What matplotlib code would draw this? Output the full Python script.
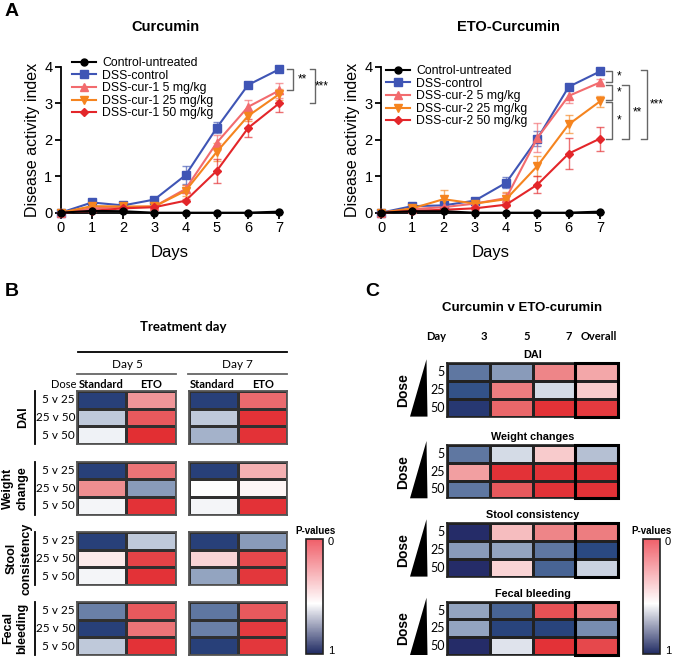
import numpy as np
import matplotlib
matplotlib.use('Agg')
import matplotlib.pyplot as plt
from matplotlib.colors import LinearSegmentedColormap, to_rgba
from matplotlib.patches import Rectangle, Polygon
from matplotlib.cm import ScalarMappable
from matplotlib.colors import Normalize

W, H = 675, 658
plt.rcParams['font.family'] = ['Liberation Sans', 'DejaVu Sans']
CAL = ['Lato', 'DejaVu Sans']

# ---------------- Panel A data ----------------
days = [0, 1, 2, 3, 4, 5, 6, 7]
cur_labels = ['Control-untreated', 'DSS-control', 'DSS-cur-1 5 mg/kg', 'DSS-cur-1 25 mg/kg', 'DSS-cur-1 50 mg/kg']
eto_labels = ['Control-untreated', 'DSS-control', 'DSS-cur-2 5 mg/kg', 'DSS-cur-2 25 mg/kg', 'DSS-cur-2 50 mg/kg']

cur_ctrl = [0, 0.05, 0.04, 0.0, 0.0, 0.0, 0.0, 0.03]
cur_dss = [0, 0.28, 0.20, 0.36, 1.03, 2.33, 3.50, 3.93]
cur_5 = [0, 0.12, 0.15, 0.17, 0.65, 1.92, 2.90, 3.35]
cur_25 = [0, 0.18, 0.17, 0.17, 0.60, 1.67, 2.65, 3.25]
cur_50 = [0, 0.05, 0.12, 0.15, 0.33, 1.15, 2.32, 3.00]
cur_ctrl_err = [0, 0, 0, 0, 0, 0, 0, 0]
cur_dss_err = [0, 0.05, 0.04, 0.08, 0.25, 0.15, 0.08, 0.03]
cur_5_err = [0, 0.04, 0.04, 0.04, 0.10, 0.20, 0.18, 0.20]
cur_25_err = [0, 0.04, 0.04, 0.04, 0.15, 0.25, 0.15, 0.15]
cur_50_err = [0, 0.03, 0.03, 0.04, 0.05, 0.33, 0.25, 0.25]

eto_ctrl = [0, 0.04, 0.04, 0.0, 0.0, 0.0, 0.0, 0.03]
eto_dss = [0, 0.18, 0.20, 0.33, 0.82, 2.03, 3.45, 3.87]
eto_5 = [0, 0.10, 0.15, 0.25, 0.40, 2.05, 3.20, 3.57]
eto_25 = [0, 0.12, 0.37, 0.25, 0.37, 1.28, 2.42, 3.05]
eto_50 = [0, 0.05, 0.08, 0.12, 0.22, 0.77, 1.62, 2.03]
eto_ctrl_err = [0, 0, 0, 0, 0, 0, 0, 0]
eto_dss_err = [0, 0.04, 0.05, 0.05, 0.15, 0.20, 0.05, 0.03]
eto_5_err = [0, 0.03, 0.04, 0.05, 0.15, 0.40, 0.20, 0.10]
eto_25_err = [0, 0.04, 0.25, 0.05, 0.20, 0.28, 0.25, 0.15]
eto_50_err = [0, 0.02, 0.03, 0.04, 0.05, 0.23, 0.42, 0.33]

# ---------------- Panel B data (rows: 5v25, 25v50, 5v50; cols: Standard, ETO) ----------------
b_rows = ['5 v 25', '25 v 50', '5 v 50']
b_groups = ['DAI', 'Weight\nchange', 'Stool\nconsistency', 'Fecal\nbleeding']
b_day5_dai = [[0.93, 0.26], [0.62, 0.12], [0.53, 0.02]]
b_day7_dai = [[0.93, 0.16], [0.62, 0.03], [0.67, 0.03]]
b_day5_weight = [[0.93, 0.18], [0.24, 0.72], [0.52, 0.03]]
b_day7_weight = [[0.93, 0.32], [0.50, 0.48], [0.52, 0.03]]
b_day5_stool = [[0.93, 0.62], [0.45, 0.07], [0.52, 0.03]]
b_day7_stool = [[0.93, 0.72], [0.40, 0.08], [0.70, 0.04]]
b_day5_fecal = [[0.78, 0.12], [0.93, 0.18], [0.62, 0.03]]
b_day7_fecal = [[0.80, 0.12], [0.78, 0.05], [0.93, 0.04]]

# ---------------- Panel C data (rows: 5, 25, 50; cols: day 3, 5, 7, Overall) ----------------
c_rows = ['5', '25', '50']
c_cols = ['3', '5', '7', 'Overall']
c_groups = ['DAI', 'Weight changes', 'Stool consistency', 'Fecal bleeding']
c_dai = [[0.80, 0.72, 0.22, 0.30], [0.88, 0.20, 0.58, 0.38], [0.96, 0.15, 0.03, 0.05]]
c_weight = [[0.80, 0.58, 0.38, 0.64], [0.28, 0.03, 0.03, 0.03], [0.80, 0.12, 0.03, 0.03]]
c_stool = [[1.00, 0.35, 0.22, 0.20], [0.72, 0.70, 0.80, 0.90], [1.00, 0.40, 0.84, 0.60]]
c_fecal = [[0.70, 0.84, 0.10, 0.20], [0.70, 0.92, 0.92, 0.75], [1.00, 0.56, 0.03, 0.08]]

cell_cmap = LinearSegmentedColormap.from_list(
    'pv', [(0.0, '#E1262B'), (0.5, '#FFFFFF'), (0.9, '#2A4A82'), (1.0, '#252C68')])
bar_cmap = LinearSegmentedColormap.from_list(
    'pvbar', [(0.0, '#F0606A'), (0.56, '#FFFFFF'), (1.0, '#1F2A62')])

fig = plt.figure(figsize=(W / 100, H / 100), dpi=100)


def px_rect(x0, y0, x1, y1):
    return [x0 / W, 1 - y1 / H, (x1 - x0) / W, (y1 - y0) / H]


ov = fig.add_axes([0, 0, 1, 1], zorder=10)
ov.set_xlim(0, W)
ov.set_ylim(H, 0)
ov.axis('off')
ov.patch.set_alpha(0)

# ---------------- Panel A ----------------
colors = ['#000000', '#3F55B5', '#F26B6E', '#F5841F', '#E3262A']
markers = ['o', 's', '^', 'v', 'D']
msizes = [5, 5.5, 5.5, 5.5, 3.8]


def line_panel(rect, labels, vals, errs, legend_anchor):
    ax = fig.add_axes(px_rect(*rect))
    order = [1, 2, 3, 4, 0]
    hd = {}
    for i in order:
        c = colors[i]
        eb = ax.errorbar(days, vals[i], yerr=errs[i], color=c, marker=markers[i], ms=msizes[i],
                         lw=1.5, ecolor=to_rgba(c, 0.65), elinewidth=1.0, capsize=3, capthick=1.0,
                         clip_on=False, zorder=3 + (2 if i == 0 else 0))
        hd[i] = eb.lines[0]
    handles = [hd[i] for i in range(5)]
    ax.set_xlim(0, 7)
    ax.set_ylim(0, 4)
    ax.set_xticks(range(8))
    ax.set_yticks(range(5))
    for s in ['top', 'right']:
        ax.spines[s].set_visible(False)
    for s in ['left', 'bottom']:
        ax.spines[s].set_linewidth(1.3)
    ax.tick_params(direction='out', length=4, width=1.3, labelsize=10.5, pad=2)
    ax.set_ylabel('Disease activity index', fontsize=11.5, labelpad=3)
    ax.set_xlabel('Days', fontsize=12, labelpad=7)
    ax.patch.set_alpha(0)
    ax.legend(handles, labels, loc='upper left', bbox_to_anchor=legend_anchor,
              bbox_transform=fig.transFigure, frameon=False, fontsize=8.8,
              handlelength=2.0, handletextpad=0.45, labelspacing=0.05, borderpad=0, borderaxespad=0)
    return ax


axL = line_panel((60.7, 66.7, 279.3, 212.7), cur_labels,
                 [cur_ctrl, cur_dss, cur_5, cur_25, cur_50],
                 [cur_ctrl_err, cur_dss_err, cur_5_err, cur_25_err, cur_50_err],
                 (72 / W, 1 - 57 / H))
axR = line_panel((381, 66.7, 600, 212.7), eto_labels,
                 [eto_ctrl, eto_dss, eto_5, eto_25, eto_50],
                 [eto_ctrl_err, eto_dss_err, eto_5_err, eto_25_err, eto_50_err],
                 (386 / W, 1 - 65 / H))


def bracket(ax, x0, x1, ya, yb, xt, txt):
    ax.plot([x0, x1, x1, x0], [ya, ya, yb, yb], color='#666666', lw=1.0, clip_on=False)
    ax.text(xt, (ya + yb) / 2, txt, fontsize=8.5, ha='center', va='center')


bracket(axL, 7.25, 7.44, cur_dss[-1], cur_5[-1], 7.73, '**')
bracket(axL, 7.98, 8.14, cur_dss[-1], cur_50[-1], 8.37, '***')
bracket(axR, 7.18, 7.39, eto_dss[-1] + 0.02, eto_5[-1] + 0.02, 7.62, '*')
bracket(axR, 7.18, 7.39, eto_5[-1] - 0.08, eto_25[-1] + 0.04, 7.62, '*')
bracket(axR, 7.18, 7.39, eto_25[-1] - 0.02, eto_50[-1], 7.62, '*')
bracket(axR, 7.71, 7.93, eto_5[-1] - 0.08, eto_50[-1], 8.2, '**')
bracket(axR, 8.31, 8.49, eto_dss[-1] + 0.05, eto_50[-1] - 0.02, 8.81, '***')

ov.text(5, 11, 'A', fontsize=14, fontweight='bold', va='center', ha='left')
ov.text(165, 27, 'Curcumin', fontsize=10.5, fontweight='bold', ha='center', va='center')
ov.text(508, 27, 'ETO-Curcumin', fontsize=10.5, fontweight='bold', ha='center', va='center')


# ---------------- heatmap helper ----------------
def heat(rect, data, edge='#303030', lw=0.8, outer='#555555', outer_lw=1.3):
    ax = fig.add_axes(px_rect(*rect))
    arr = np.array(data, dtype=float)
    ax.pcolormesh(arr, cmap=cell_cmap, vmin=0, vmax=1, edgecolors=edge, linewidth=lw)
    ax.set_xlim(0, arr.shape[1])
    ax.set_ylim(arr.shape[0], 0)
    ax.set_xticks([])
    ax.set_yticks([])
    for s in ax.spines.values():
        s.set_color(outer)
        s.set_linewidth(outer_lw)
    return ax


def pbar(rect):
    cax = fig.add_axes(px_rect(*rect))
    sm = ScalarMappable(norm=Normalize(0, 1), cmap=bar_cmap)
    cb = fig.colorbar(sm, cax=cax)
    cax.invert_yaxis()
    cb.set_ticks([])
    cb.outline.set_linewidth(1.2)
    cb.outline.set_edgecolor('#222222')
    return cax


# ---------------- Panel B ----------------
ov.text(5, 291.5, 'B', fontsize=14, fontweight='bold', va='center', ha='left')
ov.text(183, 327, 'Treatment day', fontsize=9.5, fontweight='bold', ha='center', va='center', family=CAL)
ov.plot([78, 287], [352, 352], color='black', lw=1.3)
ov.plot([77, 176], [374, 374], color='#666666', lw=1.3)
ov.plot([188, 287], [374, 374], color='#666666', lw=1.3)
ov.text(127, 365, 'Day 5', fontsize=8.5, ha='center', va='center', family=CAL)
ov.text(237, 365, 'Day 7', fontsize=8.5, ha='center', va='center', family=CAL)
ov.text(76, 384, 'Dose', fontsize=8, ha='right', va='center', family=CAL)
for xc, t in [(101, 'Standard'), (151, 'ETO'), (212, 'Standard'), (263, 'ETO')]:
    ov.text(xc, 384, t, fontsize=8, fontweight='bold', ha='center', va='center', family=CAL)

b_tops = [391, 461.5, 532, 602]
b_h = 53
b_d5 = [b_day5_dai, b_day5_weight, b_day5_stool, b_day5_fecal]
b_d7 = [b_day7_dai, b_day7_weight, b_day7_stool, b_day7_fecal]
b_lab_x = [23, 15, 19, 15]
for g in range(4):
    t = b_tops[g]
    heat((77.3, t, 175.7, t + b_h), b_d5[g])
    heat((189, t, 287.3, t + b_h), b_d7[g])
    for r in range(3):
        ov.text(75, t + (r + 0.5) * b_h / 3, b_rows[r], fontsize=8.5, ha='right', va='center', family=CAL)
    ov.plot([35, 35], [t, t + b_h], color='black', lw=1.3)
    ov.text(b_lab_x[g], t + b_h / 2, b_groups[g], rotation=90, fontsize=9, fontweight='bold',
            ha='center', va='center', multialignment='center', linespacing=1.3)

pbar((306, 539.3, 323, 654))
ov.text(315, 531, 'P-values', fontsize=7, fontweight='bold', ha='center', va='center')
ov.text(328, 542, '0', fontsize=8, ha='left', va='center')
ov.text(328, 651.5, '1', fontsize=8, ha='left', va='center')

# ---------------- Panel C ----------------
ov.text(365, 291.5, 'C', fontsize=14, fontweight='bold', va='center', ha='left')
ov.text(521.7, 308, 'Curcumin v ETO-curumin', fontsize=9.5, fontweight='bold', ha='center', va='center')
ov.text(436, 337, 'Day', fontsize=8, fontweight='bold', ha='center', va='center', family=CAL)
for xc, t in zip([484, 527, 569, 599], c_cols):
    ov.text(xc, 337, t, fontsize=8, fontweight='bold', ha='center', va='center', family=CAL)

c_tops = [363.3, 445, 523.3, 601.7]
c_h = 53.3
c_data = [c_dai, c_weight, c_stool, c_fecal]
cx0, cx1 = 446.7, 618.3
for g in range(4):
    t = c_tops[g]
    ax = heat((cx0, t, cx1, t + c_h), c_data[g], edge='#222222', lw=0.9, outer='#222222', outer_lw=1.2)
    ax.add_patch(Rectangle((3, 0), 1, 3, fill=False, edgecolor='black', lw=2.2, clip_on=False, zorder=5))
    ov.text((cx0 + cx1) / 2, t - 8, c_groups[g], fontsize=7.8, fontweight='bold', ha='center', va='center')
    for r in range(3):
        ov.text(445, t + (r + 0.5) * c_h / 3, c_rows[r], fontsize=9, ha='right', va='center', family=CAL)
    ov.text(403, t + c_h / 2, 'Dose', rotation=90, fontsize=10, fontweight='bold', ha='center', va='center')
    ov.add_patch(Polygon([(426.5, t - 4), (410, t + c_h), (427.5, t + c_h)], closed=True,
                         facecolor='black', edgecolor='none'))

pbar((642.7, 539, 660, 654.3))
ov.text(652, 531, 'P-values', fontsize=7, fontweight='bold', ha='center', va='center')
ov.text(665, 542, '0', fontsize=8, ha='left', va='center')
ov.text(665, 651.5, '1', fontsize=8, ha='left', va='center')

fig.savefig('out.png', dpi=100)
